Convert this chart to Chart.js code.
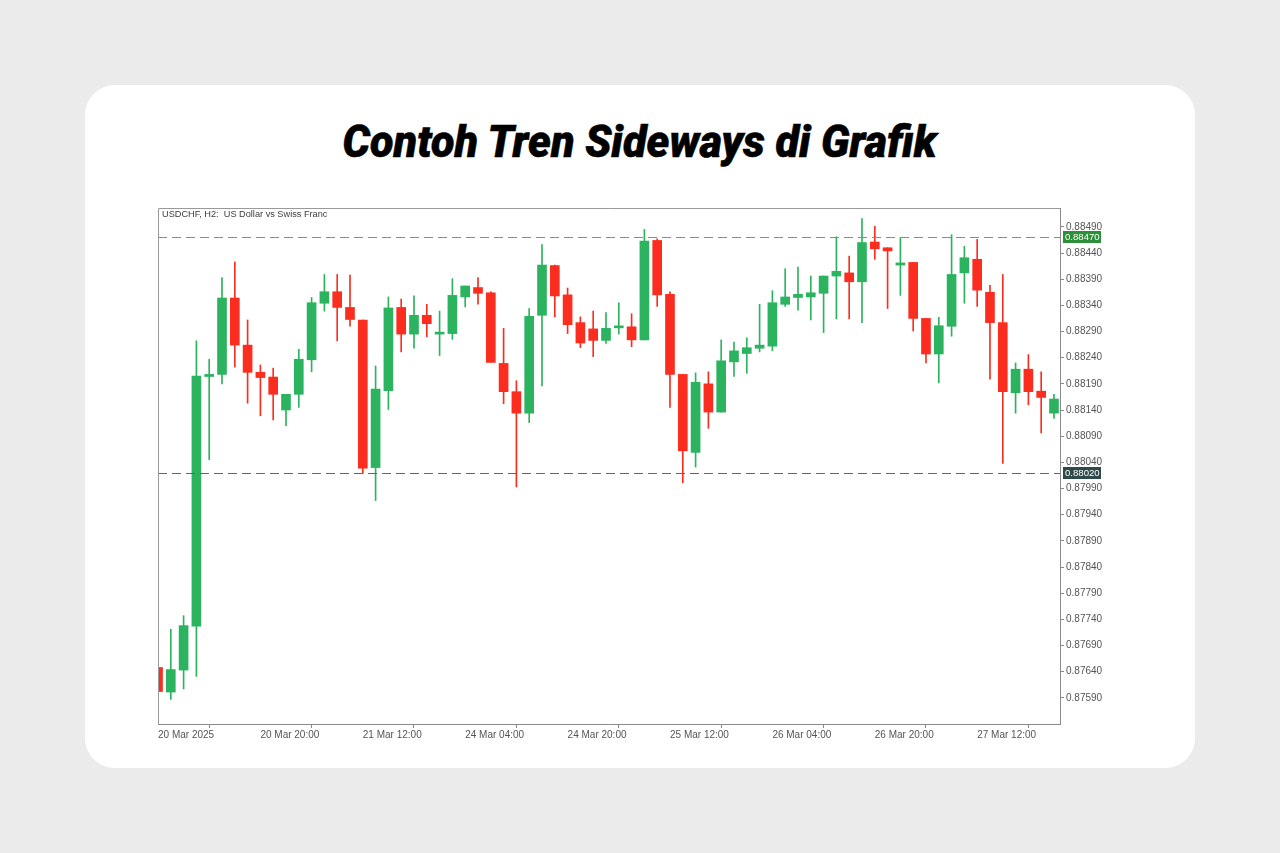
<!DOCTYPE html>
<html>
<head>
<meta charset="utf-8">
<script src="https://cdn.jsdelivr.net/npm/chart.js@4.4.1/dist/chart.umd.min.js"></script>
<style>
	html, body { margin: 0; padding: 0; }
	body { width: 1280px; height: 853px; background: #ebebeb; position: relative; overflow: hidden; }
	.card { position: absolute; left: 85px; top: 85px; width: 1110px; height: 683px; background: #fff; border-radius: 30px; }
	.title { position: absolute; left: 0; top: 119px; width: 1280px; text-align: center; font: italic 900 45px/45px Roboto, sans-serif; color: #000; white-space: nowrap; }
	.title span { display: inline-block; transform-origin: center; -webkit-text-stroke: 0.6px #000; }
	.chart-holder { position: absolute; left: 150px; top: 200px; width: 960px; height: 545px; }
</style>
</head>
<body>
<div class="card"></div>
<div class="title"><span id="title">Contoh Tren Sideways di Grafik</span></div>
<div class="chart-holder"><canvas id="priceChart"></canvas></div>
<script>
// USDCHF H2 candles
var opens  = [0.87648,0.87601,0.87643,0.87727,0.88204,0.88208,0.88354,0.88264,0.88212,0.88203,
              0.88140,0.88170,0.88236,0.88344,0.88366,0.88336,0.88312,0.88030,0.88177,0.88336,
              0.88285,0.88321,0.88285,0.88286,0.88356,0.88374,0.88364,0.88229,0.88175,0.88134,
              0.88321,0.88416,0.88360,0.88307,0.88295,0.88273,0.88297,0.88299,0.88274,0.88464,
              0.88361,0.88208,0.88059,0.88190,0.88136,0.88232,0.88248,0.88258,0.88262,0.88342,
              0.88355,0.88356,0.88363,0.88396,0.88402,0.88385,0.88461,0.88450,0.88417,0.88422,
              0.88315,0.88247,0.88300,0.88402,0.88428,0.88365,0.88307,0.88173,0.88218,0.88176,
              0.88134];
var highs  = [0.87652,0.87721,0.87747,0.88272,0.88237,0.88393,0.88423,0.88312,0.88226,0.88220,
              0.88170,0.88256,0.88355,0.88399,0.88399,0.88398,0.88312,0.88224,0.88356,0.88352,
              0.88358,0.88342,0.88329,0.88391,0.88377,0.88393,0.88366,0.88296,0.88196,0.88334,
              0.88456,0.88417,0.88373,0.88318,0.88329,0.88326,0.88345,0.88324,0.88485,0.88467,
              0.88366,0.88208,0.88211,0.88213,0.88274,0.88270,0.88278,0.88342,0.88368,0.88410,
              0.88413,0.88396,0.88396,0.88471,0.88434,0.88506,0.88491,0.88450,0.88469,0.88422,
              0.88315,0.88317,0.88475,0.88453,0.88466,0.88378,0.88399,0.88230,0.88246,0.88213,
              0.88170];
var lows   = [0.87599,0.87587,0.87607,0.87631,0.88045,0.88190,0.88222,0.88153,0.88129,0.88121,
              0.88110,0.88145,0.88213,0.88329,0.88272,0.88300,0.88019,0.87967,0.88141,0.88251,
              0.88258,0.88280,0.88244,0.88275,0.88337,0.88342,0.88231,0.88152,0.87993,0.88116,
              0.88186,0.88318,0.88286,0.88259,0.88242,0.88267,0.88285,0.88261,0.88274,0.88338,
              0.88145,0.88001,0.88031,0.88105,0.88136,0.88204,0.88210,0.88251,0.88253,0.88338,
              0.88331,0.88312,0.88288,0.88314,0.88314,0.88307,0.88428,0.88334,0.88359,0.88291,
              0.88230,0.88192,0.88281,0.88344,0.88338,0.88199,0.88038,0.88134,0.88150,0.88096,
              0.88124];
var closes = [0.87602,0.87644,0.87728,0.88205,0.88208,0.88354,0.88264,0.88212,0.88202,0.88170,
              0.88170,0.88237,0.88345,0.88366,0.88336,0.88313,0.88029,0.88180,0.88335,0.88285,
              0.88321,0.88305,0.88287,0.88359,0.88377,0.88363,0.88231,0.88175,0.88134,0.88319,
              0.88417,0.88358,0.88303,0.88268,0.88273,0.88296,0.88300,0.88274,0.88463,0.88360,
              0.88208,0.88062,0.88193,0.88136,0.88234,0.88253,0.88259,0.88264,0.88345,0.88356,
              0.88361,0.88364,0.88396,0.88405,0.88385,0.88460,0.88448,0.88444,0.88421,0.88315,
              0.88247,0.88301,0.88399,0.88431,0.88369,0.88307,0.88175,0.88218,0.88175,0.88164,
              0.88161];

var xTickIdx    = [0, 8, 16, 24, 32, 40, 48, 56, 64];
var xTickLabels = ["20 Mar 2025", "20 Mar 20:00", "21 Mar 12:00", "24 Mar 04:00", "24 Mar 20:00",
                   "25 Mar 12:00", "26 Mar 04:00", "26 Mar 20:00", "27 Mar 12:00"];
var yTickValues = [0.87590, 0.87640, 0.87690, 0.87740, 0.87790, 0.87840, 0.87890, 0.87940, 0.87990,
                   0.88040, 0.88090, 0.88140, 0.88190, 0.88240, 0.88290, 0.88340, 0.88390, 0.88440, 0.88490];
var levelValues = [0.88470, 0.88020];
var levelColors = ["#5aa96a", "#666666"];
var levelBoxes  = ["#2d8f3a", "#2f4a4a"];
var chartTitle  = "USDCHF, H2:  US Dollar vs Swiss Franc";

var GREEN = "#2bb35f";
var RED = "#fa2d1f";

// squeeze the condensed-looking title to the width it has in the picture
var t = document.getElementById("title");
t.style.transform = "scaleX(" + (594 / t.getBoundingClientRect().width) + ")";

var candleColors = opens.map(function(o, i) { return closes[i] >= o ? GREEN : RED; });

var chartDecor = {
	id: "chartDecor",
	afterDatasetsDraw: function(chart) {
		var ctx = chart.ctx, a = chart.chartArea, y = chart.scales.y;
		ctx.save();
		ctx.lineWidth = 1;
		ctx.setLineDash([9, 5]);
		for (var i = 0; i < levelValues.length; i++) {
			var py = Math.round(y.getPixelForValue(levelValues[i])) + 0.5;
			ctx.strokeStyle = levelColors[i];
			ctx.beginPath();
			ctx.moveTo(a.left, py);
			ctx.lineTo(a.right, py);
			ctx.stroke();
		}
		ctx.restore();
	},
	afterDraw: function(chart) {
		var ctx = chart.ctx, a = chart.chartArea, y = chart.scales.y;
		ctx.save();
		// top and left frame
		ctx.strokeStyle = "#9a9a9a";
		ctx.lineWidth = 1;
		ctx.beginPath();
		ctx.moveTo(a.left + 0.5, a.bottom);
		ctx.lineTo(a.left + 0.5, a.top + 0.5);
		ctx.lineTo(a.right, a.top + 0.5);
		ctx.stroke();
		// symbol header
		ctx.fillStyle = "#3c3c3c";
		ctx.font = "9.2px 'Liberation Sans', sans-serif";
		ctx.textBaseline = "middle";
		ctx.textAlign = "left";
		ctx.fillText(chartTitle, a.left + 4, a.top + 6.5);
		// price boxes on the scale
		ctx.font = "9.6px 'Liberation Sans', sans-serif";
		for (var i = 0; i < levelValues.length; i++) {
			var py = Math.round(y.getPixelForValue(levelValues[i]));
			ctx.fillStyle = levelBoxes[i];
			ctx.fillRect(a.right + 3, py - 6, 38, 12);
			ctx.fillStyle = "#fff";
			ctx.fillText(levelValues[i].toFixed(5), a.right + 5, py + 0.5);
		}
		ctx.restore();
	}
};

var ctx = document.getElementById("priceChart").getContext("2d");
new Chart(ctx, {
	type: "bar",
	data: {
		datasets: [{
			label: "body",
			data: opens.map(function(o, i) { return {x: i, y: [o, closes[i]]}; }),
			backgroundColor: candleColors,
			borderWidth: 0,
			grouped: false,
			barPercentage: 1,
			categoryPercentage: 1,
			barThickness: 9,
			maxBarThickness: 9,
			minBarLength: 2
		}, {
			label: "wick",
			data: lows.map(function(l, i) { return {x: i, y: [l, highs[i]]}; }),
			backgroundColor: candleColors,
			borderWidth: 0,
			grouped: false,
			barPercentage: 1,
			categoryPercentage: 1,
			barThickness: 1,
			maxBarThickness: 1
		}]
	},
	options: {
		responsive: true,
		maintainAspectRatio: false,
		animation: false,
		layout: { padding: { left: 8, top: 7, right: 0, bottom: 0 } },
		plugins: {
			legend: { display: false },
			tooltip: { enabled: false },
			title: { display: false }
		},
		scales: {
			x: {
				type: "linear",
				offset: false,
				min: 0,
				max: 70.47,
				afterBuildTicks: function(scale) {
					scale.ticks = xTickIdx.map(function(v) { return {value: v}; });
				},
				afterFit: function(scale) { scale.height = 21; },
				grid: { drawOnChartArea: false, drawTicks: true, tickLength: 4, color: "#8a8a8a" },
				border: { display: true, color: "#8a8a8a" },
				ticks: {
					autoSkip: false,
					maxRotation: 0,
					align: "start",
					padding: 1,
					color: "#555",
					font: { family: "'Liberation Sans', sans-serif", size: 10 },
					callback: function(value, index) { return xTickLabels[index]; }
				}
			},
			y: {
				position: "right",
				min: 0.87540,
				max: 0.88526,
				afterBuildTicks: function(scale) {
					scale.ticks = yTickValues.map(function(v) { return {value: v}; });
				},
				afterFit: function(scale) { scale.width = 50; },
				grid: { drawOnChartArea: false, drawTicks: true, tickLength: 4, color: "#8a8a8a" },
				border: { display: true, color: "#8a8a8a" },
				ticks: {
					padding: 2,
					color: "#555",
					font: { family: "'Liberation Sans', sans-serif", size: 10 },
					callback: function(value) { return value.toFixed(5); }
				}
			}
		}
	},
	plugins: [chartDecor]
});
</script>
</body>
</html>
